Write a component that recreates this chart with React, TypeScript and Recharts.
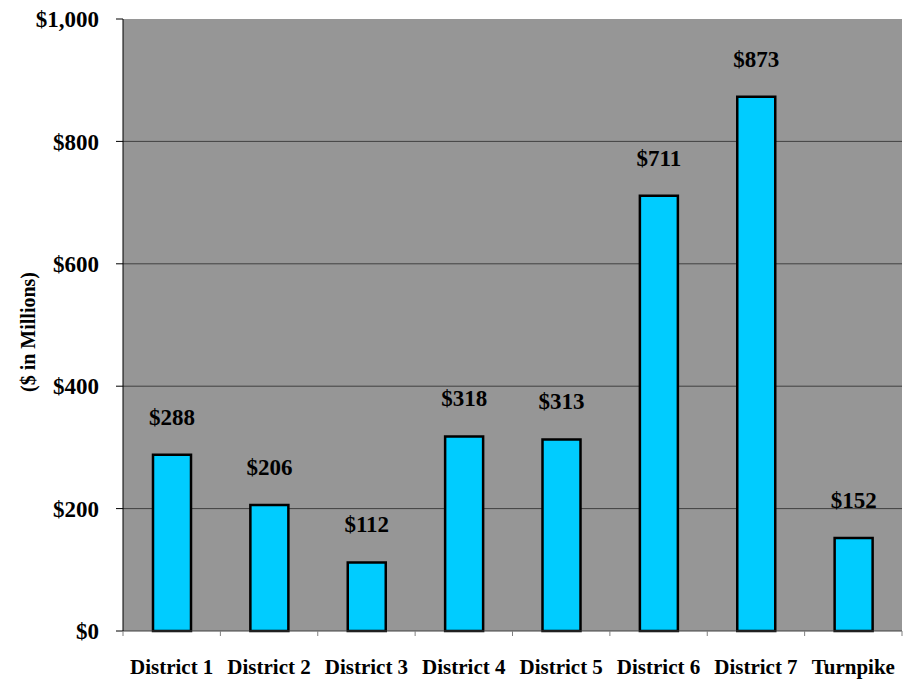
import React from "react";
import { BarChart, Bar, XAxis, YAxis, CartesianGrid, LabelList, Label } from "recharts";

const categories = ["District 1", "District 2", "District 3", "District 4", "District 5", "District 6", "District 7", "Turnpike"];
const values = [288, 206, 112, 318, 313, 711, 873, 152];
const yTicks = [0, 200, 400, 600, 800, 1000];
const gridValues = [200, 400, 600, 800];

const data = categories.map((name, i) => ({ name, value: values[i] }));

const FONT = '"Liberation Serif", "Times New Roman", serif';

const money = (v: number) => "$" + v.toLocaleString("en-US");

const XTick = (props: any) => {
  const { x, y, payload, index } = props;
  const off = payload.offset || 0;
  const isLast = index === categories.length - 1;
  return (
    <g>
      <line x1={x - off} x2={x - off} y1={y - 8} y2={y - 3} stroke="#808080" strokeWidth={1} />
      {isLast && <line x1={x + off} x2={x + off} y1={y - 8} y2={y - 3} stroke="#808080" strokeWidth={1} />}
      <text x={x} y={y + 35} textAnchor="middle" fontFamily={FONT} fontWeight="bold" fontSize={21} fill="#000">
        {payload.value}
      </text>
    </g>
  );
};

const YTitle = (props: any) => {
  const { viewBox } = props;
  const cx = viewBox.x + 35;
  const cy = viewBox.y + viewBox.height / 2 + 7;
  return (
    <text
      transform={`translate(${cx},${cy}) rotate(-90)`}
      textAnchor="middle"
      fontFamily={FONT}
      fontWeight="bold"
      fontSize={20}
      fill="#000"
    >
      ($ in Millions)
    </text>
  );
};

export default function App() {
  return (
    <div style={{ position: "absolute", left: 0, top: 0, background: "#fff" }}>
      <BarChart
        width={919}
        height={682}
        data={data}
        margin={{ top: 19, right: 17, bottom: 0, left: 0 }}
        barSize={38}
      >
        <CartesianGrid
          vertical={false}
          horizontalValues={gridValues}
          fill="#969696"
          fillOpacity={1}
          stroke="#404040"
          strokeWidth={1}
        />
        <XAxis
          dataKey="name"
          height={51}
          tickLine={false}
          axisLine={{ stroke: "#404040", strokeWidth: 1 }}
          tick={<XTick />}
          interval={0}
        />
        <YAxis
          width={123}
          domain={[0, 1000]}
          ticks={yTicks}
          tickFormatter={money}
          tickSize={7}
          tickMargin={17}
          tickLine={{ stroke: "#000" }}
          axisLine={{ stroke: "#000" }}
          tick={{ fontFamily: FONT, fontWeight: "bold", fontSize: 23, fill: "#000" }}
          interval={0}
        >
          <Label content={<YTitle />} />
        </YAxis>
        <Bar dataKey="value" fill="#00CCFF" stroke="#000" strokeWidth={2.5} isAnimationActive={false}>
          <LabelList
            dataKey="value"
            position="top"
            offset={30}
            formatter={(v: any) => money(Number(v))}
            style={{ fontFamily: FONT, fontWeight: "bold", fontSize: 23, fill: "#000" }}
          />
        </Bar>
      </BarChart>
    </div>
  );
}
